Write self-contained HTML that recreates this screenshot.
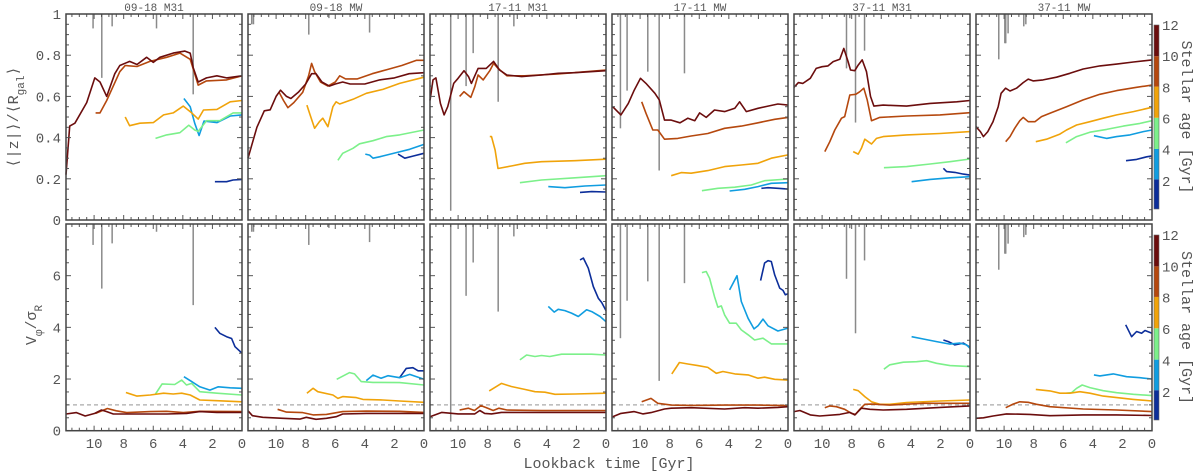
<!DOCTYPE html>
<html><head><meta charset="utf-8"><style>
html,body{margin:0;padding:0;background:#fff;}
svg{display:block;font-family:"Liberation Mono","DejaVu Sans Mono",monospace;}
</style></head><body>
<svg id="chart" width="1200" height="474" viewBox="0 0 1200 474" xmlns="http://www.w3.org/2000/svg"></svg>
<script>
// ---------- data ----------
const panelTitles = ["09-18 M31","09-18 MW","17-11 M31","17-11 MW","37-11 M31","37-11 MW"];
const xTickLabels = [10,8,6,4,2,0];
const topTickLabels = [0,0.2,0.4,0.6,0.8,1];
const botTickLabels = [0,2,4,6];
const cbarTickLabels = [2,4,6,8,10,12];
const cbarBounds = [0.2,2.1,4.05,6.05,8.05,10,12];
const ageColors = ["#0c2e9a","#109de0","#7cf08a","#f0a30a","#b5480e","#6b0d0d"];

// merger times (Gyr) and line ends [top-row value, bottom-row value]
const mergeT = [
 [10.07,9.48,8.78,5.78,3.3],
 [11.65,11.53,7.79,6.43,3.68],
 [10.5,9.46,8.98,7.29,6.23],
 [11.33,10.88,9.48,8.71,7.0],
 [8.35,8.13,7.74,7.13],
 [10.36,9.95,9.89,9.73,8.67,8.53]
];
const mergeTopEnd = [
 [0.93,0.69,0.94,0.93,0.61],
 [0.95,0.95,0.90,0.98,0.91],
 [0.045,0.65,0.81,0.574,0.94],
 [0.445,0.628,0.72,0.24,0.712],
 [0.736,0.98,0.473,0.822],
 [0.78,0.858,0.858,0.906,0.94,0.95]
];
const mergeBotEnd = [
 [7.19,5.5,7.25,7.7,4.86],
 [7.7,7.7,7.19,7.85,7.3],
 [0.35,5.22,6.51,4.61,7.52],
 [3.58,5.03,5.78,1.93,5.71],
 [5.88,7.84,3.77,6.59],
 [6.23,6.85,6.85,7.24,7.49,7.58]
];

// ---- panel 1: 09-18 M31 ----
const z1_c0 = [[1.83,.186],[1.04,.186],[0.6,.194],[0,.197]];
const z1_c1 = [[3.93,.59],[3.5,.55],[3.2,.47],[2.9,.41],[2.57,.48],[1.7,.473],[0.8,.505],[0,.51]];
const z1_c2 = [[5.85,.396],[5.1,.413],[4.2,.424],[3.6,.46],[3.2,.437],[2.96,.43],[2.4,.482],[1.5,.482],[0.6,.52],[0,.52]];
const z1_c3 = [[7.9,.5],[7.6,.458],[6.9,.47],[6.0,.473],[5.3,.51],[4.65,.52],[3.97,.553],[3.4,.52],[2.96,.49],[2.6,.534],[1.7,.537],[0.8,.574],[0,.58]];
const z1_c4 = [[9.9,.52],[9.6,.52],[9.15,.58],[8.26,.72],[7.9,.75],[7.1,.745],[6.23,.77],[5.1,.79],[4.2,.81],[3.5,.78],[2.96,.655],[2.4,.675],[1.04,.68],[0,.7]];
const z1_c5 = [[11.9,.22],[11.65,.456],[11.3,.47],[10.5,.57],[9.95,.69],[9.6,.67],[9.15,.6],[8.6,.71],[8.26,.75],[7.6,.77],[7.1,.755],[6.45,.79],[6.0,.765],[5.55,.79],[4.65,.81],[3.86,.82],[3.5,.81],[3.3,.74],[2.96,.67],[2.4,.69],[1.7,.7],[1.04,.69],[0,.7]];
const k1_c0 = [[1.83,4.0],[1.5,3.77],[1.04,3.64],[0.7,3.57],[0.47,3.25],[0,3.0]];
const k1_c1 = [[3.93,2.09],[3.4,1.9],[2.85,1.7],[2.17,1.57],[1.6,1.7],[0.8,1.66],[0,1.64]];
const k1_c2 = [[5.85,1.42],[5.4,1.81],[4.55,1.79],[4.08,1.96],[3.75,1.77],[3.4,1.83],[2.85,1.51],[1.7,1.45],[0,1.38]];
const k1_c3 = [[7.85,1.48],[7.1,1.34],[6.2,1.38],[5.3,1.45],[4.65,1.42],[4.08,1.45],[3.5,1.38],[2.85,1.19],[1.7,1.16],[0,1.12]];
const k1_c4 = [[9.9,.67],[9.1,.86],[8.5,.77],[7.8,.7],[6.2,.74],[5.1,.75],[3.97,.7],[2.85,.75],[0,.74]];
const k1_c5 = [[11.9,.645],[11.2,.7],[10.6,.57],[9.95,.67],[9.5,.8],[9.15,.74],[8.7,.645],[7.35,.645],[5.1,.645],[3.75,.67],[2.85,.74],[1.7,.71],[0,.71]];

// ---- panel 2: 09-18 MW ----
const z2_c0 = [[1.76,.32],[1.3,.3],[0.75,.31],[0,.324]];
const z2_c1 = [[3.97,.32],[3.68,.315],[3.45,.3],[3.0,.307],[2.55,.315],[1.87,.327],[0.97,.343],[0,.367]];
const z2_c2 = [[5.82,.29],[5.5,.324],[4.8,.348],[4.36,.37],[3.45,.385],[2.55,.405],[1.65,.413],[0,.437]];
const z2_c3 = [[7.92,.558],[7.7,.51],[7.4,.445],[7.07,.477],[6.84,.494],[6.5,.453],[6.16,.55],[5.94,.574],[5.7,.563],[4.8,.586],[3.9,.615],[2.78,.634],[1.65,.663],[0,.693]];
const z2_c4 = [[9.8,.62],[9.5,.58],[9.2,.545],[8.8,.57],[8.2,.62],[7.8,.7],[7.6,.76],[7.4,.72],[7.0,.67],[6.5,.65],[6.0,.67],[5.7,.7],[5.3,.685],[4.5,.685],[3.5,.71],[2.5,.73],[1.5,.75],[0.5,.775],[0,.775]];
const z2_c5 = [[11.9,.3],[11.3,.45],[10.8,.53],[10.4,.535],[10.0,.6],[9.7,.63],[9.3,.6],[9.0,.59],[8.5,.62],[8.0,.66],[7.6,.71],[7.3,.71],[6.9,.67],[6.4,.65],[6.0,.66],[5.5,.67],[5.0,.66],[4.0,.66],[3.0,.68],[2.0,.69],[1.0,.71],[0,.715]];
const k2_c0 = [[1.65,2.05],[1.2,2.41],[0.75,2.44],[0.4,2.32],[0,2.32]];
const k2_c1 = [[3.9,1.94],[3.45,2.15],[2.9,2.03],[2.44,2.13],[1.65,2.05],[0.97,2.18],[0,1.99]];
const k2_c2 = [[5.9,1.99],[5.03,2.25],[4.7,2.2],[4.24,1.9],[3.45,1.87],[1.65,1.86],[0,1.77]];
const k2_c3 = [[7.92,1.45],[7.5,1.64],[7.18,1.51],[6.16,1.38],[5.82,1.25],[5.5,1.32],[4.58,1.28],[4.13,1.21],[2.78,1.19],[1.65,1.15],[0,1.1]];
const k2_c4 = [[9.9,.83],[9.3,.72],[8.2,.7],[7.5,.61],[6.6,.63],[5.5,.74],[3.9,.76],[1.65,.75],[0,.71]];
const k2_c5 = [[11.9,.77],[11.6,.58],[10.9,.52],[9.55,.48],[8.4,.45],[7.96,.52],[7.3,.44],[6.6,.48],[5.94,.54],[5.5,.645],[3.9,.67],[0,.67]];

// ---- panel 3: 17-11 M31 ----
const z3_c0 = [[1.76,.134],[0.97,.138],[0,.136]];
const z3_c1 = [[3.9,.162],[2.78,.157],[1.42,.165],[0,.17]];
const z3_c2 = [[5.82,.181],[4.36,.194],[2.1,.205],[0,.215]];
const z3_c3 = [[7.86,.405],[7.74,.405],[7.5,.34],[7.3,.25],[6.4,.262],[5.5,.275],[4.36,.283],[2.1,.288],[0,.295]];
const z3_c4 = [[9.9,.6],[9.6,.623],[9.14,.595],[8.87,.647],[8.65,.704],[8.3,.68],[7.86,.725],[7.6,.76],[7.3,.736],[6.7,.7],[5.5,.7],[3.23,.709],[0,.728]];
const z3_c5 = [[11.9,.58],[11.7,.68],[11.5,.69],[11.2,.566],[10.95,.51],[10.7,.55],[10.3,.663],[10.0,.688],[9.6,.725],[9.3,.696],[9.1,.663],[8.65,.736],[8.1,.736],[7.6,.77],[7.2,.728],[6.7,.704],[5.7,.696],[4.36,.704],[3.23,.712],[2.1,.715],[0,.725]];
const k3_c0 = [[1.76,6.61],[1.53,6.68],[1.2,6.29],[0.86,5.58],[0.52,5.13],[0.29,4.96],[0,4.65]];
const k3_c1 = [[3.9,4.81],[3.5,4.59],[3.23,4.7],[2.78,4.65],[2.33,4.55],[1.87,4.42],[1.31,4.68],[0.97,4.61],[0.4,4.42],[0,4.22]];
const k3_c2 = [[5.82,2.74],[5.37,2.93],[4.8,2.87],[4.36,2.91],[3.8,2.87],[3.0,2.96],[1.87,2.96],[0.97,2.96],[0,2.93]];
const k3_c3 = [[7.9,1.54],[7.07,1.83],[6.4,1.71],[5.5,1.6],[4.8,1.51],[4.13,1.49],[3.45,1.41],[2.1,1.42],[0,1.45]];
const k3_c4 = [[9.9,.8],[9.3,.87],[8.9,.78],[8.46,.97],[8.08,.89],[7.63,.78],[7.25,.87],[6.7,.8],[4.36,.78],[0,.78]];
const k3_c5 = [[11.9,.54],[11.1,.71],[10.0,.65],[8.87,.65],[8.53,.78],[8.2,.67],[7.74,.65],[7.07,.71],[5.5,.71],[3.23,.71],[0,.71]];

// ---- panel 4: 17-11 MW ----
const z4_c0 = [[1.8,.154],[1.35,.157],[0.68,.154],[0,.15]];
const z4_c1 = [[3.95,.141],[2.93,.149],[2.03,.162],[1.13,.178],[0,.181]];
const z4_c2 = [[5.82,.142],[4.74,.154],[3.6,.159],[2.48,.17],[1.58,.191],[0,.199]];
const z4_c3 = [[7.9,.215],[7.22,.23],[6.55,.227],[5.42,.24],[4.29,.259],[3.16,.267],[2.03,.275],[1.13,.3],[0,.316]];
const z4_c4 = [[9.89,.574],[9.6,.518],[9.14,.437],[8.8,.437],[8.35,.392],[7.45,.396],[6.55,.408],[5.42,.42],[4.29,.445],[3.16,.456],[2.03,.472],[0.9,.489],[0,.498]];
const z4_c5 = [[11.85,.55],[11.3,.51],[10.8,.566],[10.4,.63],[9.97,.688],[9.6,.663],[9.0,.615],[8.7,.583],[8.35,.485],[7.9,.485],[7.3,.472],[6.77,.494],[6.3,.482],[5.98,.52],[5.53,.498],[4.97,.534],[4.29,.526],[3.6,.542],[3.27,.574],[2.82,.526],[2.03,.542],[1.35,.553],[0.68,.563],[0,.558]];
const k4_c0 = [[1.85,5.81],[1.58,6.49],[1.35,6.58],[1.13,6.55],[0.9,6.03],[0.56,5.52],[0.34,5.43],[0.18,5.26],[0,5.3]];
const k4_c1 = [[3.95,5.45],[3.45,6.0],[3.16,5.0],[2.7,4.35],[2.3,3.94],[2.03,4.06],[1.69,4.32],[1.35,4.06],[0.68,3.86],[0,3.97]];
const k4_c2 = [[5.82,6.12],[5.53,6.16],[5.3,5.9],[4.97,5.19],[4.74,4.78],[4.51,4.83],[4.29,4.48],[3.95,4.16],[3.5,4.16],[3.16,3.9],[2.7,3.71],[2.26,3.51],[1.69,3.58],[1.13,3.36],[0,3.36]];
const k4_c3 = [[7.86,2.2],[7.34,2.64],[6.77,2.58],[6.1,2.52],[5.42,2.45],[4.85,2.22],[4.4,2.29],[3.6,2.2],[2.7,2.16],[2.03,2.03],[1.58,2.07],[0.9,1.99],[0,1.96]];
const k4_c4 = [[9.89,1.12],[9.26,1.25],[8.8,1.06],[7.9,.99],[6.55,.98],[4.29,.99],[2.03,.99],[0,.97]];
const k4_c5 = [[11.85,.54],[11.3,.67],[10.4,.74],[9.82,.65],[9.26,.7],[8.35,.84],[7.9,.87],[6.55,.89],[4.29,.84],[2.93,.89],[2.03,.87],[0.68,.9],[0,.93]];

// ---- panel 5: 37-11 M31 ----
const z5_c0 = [[1.8,.251],[1.58,.235],[1.02,.231],[0.45,.223],[0,.218]];
const z5_c1 = [[3.95,.186],[2.7,.197],[1.35,.205],[0,.21]];
const z5_c2 = [[5.82,.254],[4.29,.259],[2.7,.272],[1.35,.283],[0,.296]];
const z5_c3 = [[7.9,.332],[7.56,.32],[7.34,.348],[7.11,.392],[6.66,.369],[6.32,.396],[5.87,.405],[4.29,.413],[2.03,.42],[0,.429]];
const z5_c4 = [[9.82,.332],[9.48,.38],[9.14,.437],[8.69,.494],[8.47,.502],[8.13,.607],[7.72,.61],[7.45,.623],[7.18,.64],[6.95,.583],[6.66,.482],[6.1,.498],[4.29,.505],[2.03,.51],[0,.521]];
const z5_c5 = [[11.9,.644],[11.6,.667],[11.3,.663],[10.8,.688],[10.4,.736],[10.0,.744],[9.6,.748],[9.25,.769],[8.8,.78],[8.53,.833],[8.24,.769],[8.08,.728],[7.79,.725],[7.56,.752],[7.29,.777],[7.0,.72],[6.73,.6],[6.5,.553],[5.87,.558],[4.29,.553],[2.7,.566],[0.9,.574],[0,.58]];
const k5_c0 = [[1.8,3.51],[1.47,3.45],[1.02,3.32],[0.45,3.39],[0,3.23]];
const k5_c1 = [[3.95,3.64],[3.16,3.55],[2.26,3.45],[1.35,3.35],[0.68,3.39],[0.23,3.32],[0,3.19]];
const k5_c2 = [[5.82,2.38],[5.42,2.55],[4.51,2.65],[3.61,2.67],[2.93,2.71],[2.26,2.61],[1.35,2.52],[0,2.48]];
const k5_c3 = [[7.9,1.6],[7.56,1.55],[7.11,1.32],[6.66,1.12],[6.1,1.02],[5.42,1.02],[4.29,1.09],[2.03,1.15],[0,1.19]];
const k5_c4 = [[9.82,.89],[9.48,.96],[9.03,.93],[8.47,.83],[8.01,.67],[7.74,.63],[7.45,.83],[7.11,1.02],[6.66,1.03],[5.42,.99],[3.16,1.06],[0,1.06]];
const k5_c5 = [[11.9,.74],[11.5,.78],[10.8,.61],[10.16,.57],[8.8,.63],[8.13,.71],[7.79,.61],[7.34,.87],[6.77,.83],[5.87,.8],[4.29,.83],[2.03,.9],[0,.96]];

// ---- panel 6: 37-11 MW ----
const z6_c0 = [[1.76,.288],[1.04,.294],[0.36,.307],[0,.311]];
const z6_c1 = [[3.93,.409],[3.07,.396],[2.39,.405],[1.49,.413],[0.59,.429],[0,.437]];
const z6_c2 = [[5.82,.375],[5.1,.405],[4.2,.426],[3.07,.44],[1.94,.456],[0.81,.469],[0,.482]];
const z6_c3 = [[7.86,.38],[7.13,.392],[6.23,.417],[5.78,.437],[5.1,.461],[4.2,.477],[3.3,.494],[2.39,.51],[1.26,.526],[0,.547]];
const z6_c4 = [[9.89,.38],[9.6,.405],[9.28,.445],[8.94,.482],[8.71,.498],[8.37,.477],[7.92,.477],[7.47,.502],[6.9,.518],[5.78,.55],[4.65,.583],[3.52,.61],[2.39,.628],[1.04,.644],[0,.655]];
const z6_c5 = [[11.9,.453],[11.6,.429],[11.4,.405],[11.1,.429],[10.75,.477],[10.4,.55],[10.2,.615],[9.9,.64],[9.6,.626],[9.16,.64],[8.71,.667],[8.37,.684],[8.04,.675],[7.36,.68],[6.46,.693],[5.55,.712],[4.65,.733],[3.52,.748],[2.39,.757],[1.26,.767],[0,.777]];
const k6_c0 = [[1.78,4.1],[1.38,3.64],[1.04,3.84],[0.7,3.77],[0.47,3.88],[0,3.77]];
const k6_c1 = [[3.93,2.16],[3.52,2.12],[2.62,2.2],[1.72,2.09],[0.81,2.05],[0,2.0]];
const k6_c2 = [[5.78,1.45],[5.44,1.47],[5.1,1.64],[4.72,1.77],[4.2,1.67],[3.3,1.55],[2.39,1.47],[1.26,1.41],[0,1.36]];
const k6_c3 = [[7.86,1.6],[6.9,1.54],[6.23,1.45],[5.55,1.45],[4.88,1.51],[4.2,1.45],[3.3,1.34],[2.39,1.28],[1.26,1.21],[0,1.15]];
const k6_c4 = [[9.89,.89],[9.39,1.03],[8.94,1.12],[8.37,1.1],[7.81,1.02],[6.9,.93],[4.65,.84],[2.39,.8],[0,.74]];
const k6_c5 = [[11.9,.48],[11.4,.5],[10.75,.57],[9.84,.65],[8.26,.63],[6.9,.58],[4.65,.61],[2.39,.61],[0,.59]];

const topSeries = [
 [z1_c0,z1_c1,z1_c2,z1_c3,z1_c4,z1_c5],
 [z2_c0,z2_c1,z2_c2,z2_c3,z2_c4,z2_c5],
 [z3_c0,z3_c1,z3_c2,z3_c3,z3_c4,z3_c5],
 [z4_c0,z4_c1,z4_c2,z4_c3,z4_c4,z4_c5],
 [z5_c0,z5_c1,z5_c2,z5_c3,z5_c4,z5_c5],
 [z6_c0,z6_c1,z6_c2,z6_c3,z6_c4,z6_c5]
];
const botSeries = [
 [k1_c0,k1_c1,k1_c2,k1_c3,k1_c4,k1_c5],
 [k2_c0,k2_c1,k2_c2,k2_c3,k2_c4,k2_c5],
 [k3_c0,k3_c1,k3_c2,k3_c3,k3_c4,k3_c5],
 [k4_c0,k4_c1,k4_c2,k4_c3,k4_c4,k4_c5],
 [k5_c0,k5_c1,k5_c2,k5_c3,k5_c4,k5_c5],
 [k6_c0,k6_c1,k6_c2,k6_c3,k6_c4,k6_c5]
];

// ---------- layout ----------
const NS = "http://www.w3.org/2000/svg";
const svg = document.getElementById("chart");
const PW = 176, TMAX = 11.9;
const rows = [{top:14,bottom:220,vmax:1},{top:224,bottom:430.7,vmax:8}];
function px(p,t){ return 66 + p*182 + (TMAX - t)/TMAX*PW; }
function py(r,v){ const R = rows[r]; return R.bottom - v/R.vmax*(R.bottom-R.top); }
function mk(tag, attrs, parent){
  const e = document.createElementNS(NS, tag);
  for (const k in attrs) e.setAttribute(k, attrs[k]);
  (parent||svg).appendChild(e); return e;
}
const GREY = "#555";

for (let p=0;p<6;p++){
  const x0 = px(p,TMAX), x1 = px(p,0);
  const title = mk("text",{x:(x0+x1)/2,y:11,"text-anchor":"middle","font-size":"11",fill:GREY});
  title.textContent = panelTitles[p];
  
  
  for (let r=0;r<2;r++){
    const R = rows[r];
    const g = mk("g",{});
    
    
    // merger lines
    const ends = r===0 ? mergeTopEnd[p] : mergeBotEnd[p];
    mergeT[p].forEach((t,i)=>{
      const l = mk("line",{x1:px(p,t),x2:px(p,t),y1:R.top,y2:py(r,ends[i]),stroke:"#8a8a8a","stroke-width":"1.5"},g);
      
      
    });
    if (r===1){
      const d = mk("line",{x1:x0,x2:x1,y1:py(1,1),y2:py(1,1),stroke:"#aaa","stroke-width":"1.3","stroke-dasharray":"4,3"},g);
      
      
    }
    // series
    const ser = r===0 ? topSeries[p] : botSeries[p];
    ser.forEach((pts,ci)=>{
      const dstr = pts.map((q,i)=>(i?"L":"M")+px(p,q[0]).toFixed(1)+","+py(r,q[1]).toFixed(1)).join(" ");
      const path = mk("path",{d:dstr,fill:"none",stroke:ageColors[ci],"stroke-width":"1.6","stroke-linejoin":"round"},g);
      
      
    });
    // ticks
    for (let t=0;t<=11.5;t+=0.5){
      const major = Math.abs(t%2)<1e-6;
      const len = major?5:3; const x = px(p,t);
      mk("line",{x1:x,x2:x,y1:R.bottom,y2:R.bottom-len,stroke:GREY,"stroke-width":"1"},g);
      mk("line",{x1:x,x2:x,y1:R.top,y2:R.top+len,stroke:GREY,"stroke-width":"1"},g);
    }
    const step = r===0?0.05:0.5, majStep = r===0?0.2:2;
    for (let v=0; v<=R.vmax+1e-6; v+=step){
      const major = Math.abs(v/majStep-Math.round(v/majStep))<1e-6;
      const len = major?5:3; const y = py(r,v);
      mk("line",{x1:x0,x2:x0+len,y1:y,y2:y,stroke:GREY,"stroke-width":"1"},g);
      mk("line",{x1:x1,x2:x1-len,y1:y,y2:y,stroke:GREY,"stroke-width":"1"},g);
    }
    const frame = mk("rect",{x:x0,y:R.top,width:x1-x0,height:R.bottom-R.top,fill:"none",stroke:"#444","stroke-width":"1.5"},g);
    
    
  }
  xTickLabels.forEach(v=>{
    const tx = mk("text",{x:px(p,v),y:448,"text-anchor":"middle","font-size":"14",fill:GREY});
    tx.textContent = v;
    
    
  });
}
// y tick labels (first column)
topTickLabels.forEach(v=>{
  const t = mk("text",{x:61,y:py(0,v)+5,"text-anchor":"end","font-size":"14",fill:GREY});
  t.textContent = v===0?"0":(v===1?"1":v.toFixed(1));
  
  
});
botTickLabels.forEach(v=>{
  const t = mk("text",{x:61,y:py(1,v)+5,"text-anchor":"end","font-size":"14",fill:GREY});
  t.textContent = v;
  
  
});
// colorbars
[[25,209],[235,420]].forEach((cb,ri)=>{
  const scale = (cb[1]-cb[0])/(12-0.2);
  const cy = a => cb[1] - (a-0.2)*scale;
  for (let i=0;i<6;i++){
    const rc = mk("rect",{x:1154,y:cy(cbarBounds[i+1]),width:5,height:cy(cbarBounds[i])-cy(cbarBounds[i+1]),fill:ageColors[i]});
    
    
  }
  mk("rect",{x:1154,y:cb[0],width:5,height:cb[1]-cb[0],fill:"none",stroke:"#666","stroke-width":"0.6"});
  cbarTickLabels.forEach(a=>{
    const t = mk("text",{x:1162,y:cy(a)+5,"font-size":"14",fill:GREY});
    t.textContent = a;
    
    
  });
  const lab = mk("text",{x:1182,y:(cb[0]+cb[1])/2,"text-anchor":"middle","font-size":"15",fill:GREY,transform:`rotate(90 1182 ${(cb[0]+cb[1])/2})`});
  lab.textContent = "Stellar age [Gyr]";
  
  
});
// axis titles
const yt1 = mk("text",{x:18,y:117,"text-anchor":"middle","font-size":"15",fill:GREY,transform:"rotate(-90 18 117)"});
yt1.innerHTML = '⟨|z|⟩/⟨R<tspan baseline-shift="sub" font-size="11">gal</tspan>⟩';


const yt2 = mk("text",{x:36,y:325,"text-anchor":"middle","font-size":"15",fill:GREY,transform:"rotate(-90 36 325)"});
yt2.innerHTML = 'V<tspan baseline-shift="sub" font-size="11">φ</tspan>/σ<tspan baseline-shift="sub" font-size="11">R</tspan>';


const xt = mk("text",{x:609,y:468,"text-anchor":"middle","font-size":"15",fill:GREY});
xt.textContent = "Lookback time [Gyr]";


</script>
</body></html>
